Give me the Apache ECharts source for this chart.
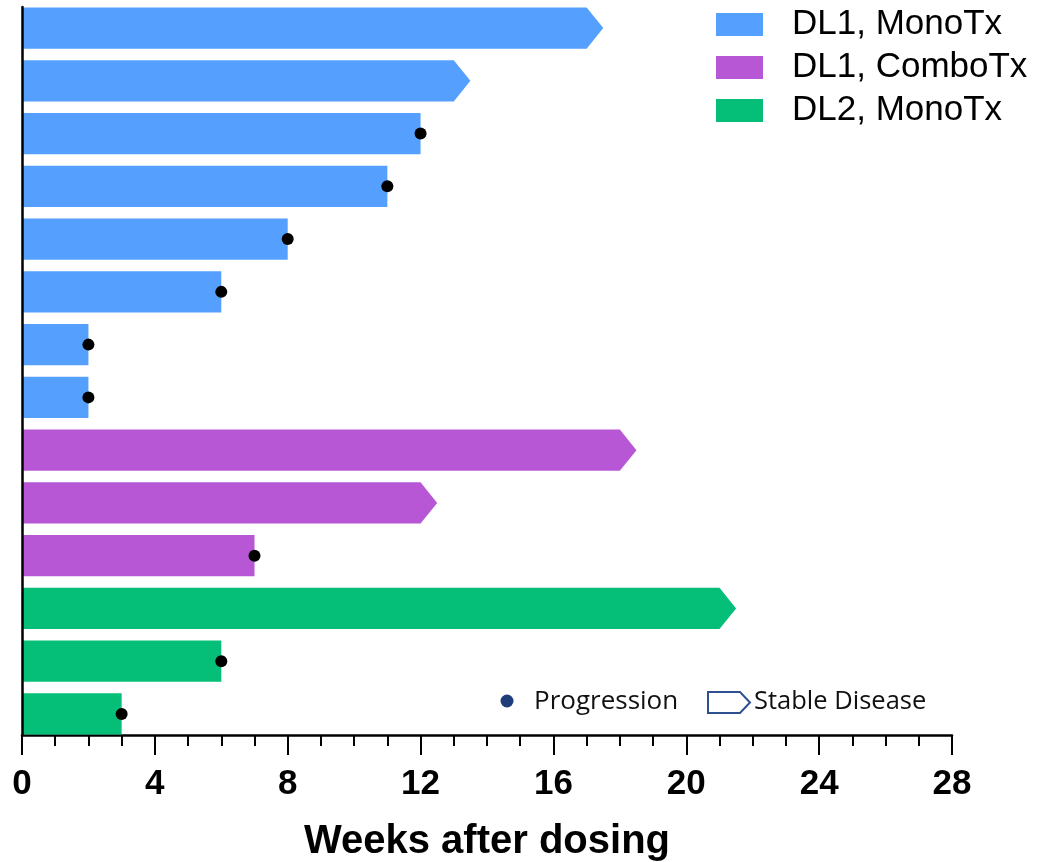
<!DOCTYPE html>
<html>
<head>
<meta charset="utf-8">
<title>Weeks after dosing</title>
<script src="https://cdn.jsdelivr.net/npm/echarts@6/dist/echarts.min.js"></script>
<style>
  html, body { margin: 0; padding: 0; background: #fff; }
  #chart { width: 1038px; height: 862px; }
</style>
</head>
<body>
<div id="chart"></div>
<script>
// Cohorts shown in the legend
const groups = ['DL1, MonoTx', 'DL1, ComboTx', 'DL2, MonoTx'];
const groupColors = ['#55A0FE', '#B857D6', '#05BF78'];

// One row per patient, top to bottom
const weeksOnStudy = [17, 13, 12, 11, 8, 6, 2, 2, 18, 12, 7, 21, 6, 3];
const cohortIndex  = [0, 0, 0, 0, 0, 0, 0, 0, 1, 1, 1, 2, 2, 2];
// 1 = stable disease (still ongoing, drawn with arrow head), 0 = progression
const stableDisease = [1, 1, 0, 0, 0, 0, 0, 0, 1, 1, 0, 1, 0, 0];

// X axis tick labels (weeks)
const weekTicks = [0, 4, 8, 12, 16, 20, 24, 28];

const ARROW_WEEKS = 0.5;   // length of the arrow head in weeks
const BAR_THICKNESS = 0.78; // bar height in row units

const chart = echarts.init(document.getElementById('chart'), null, { renderer: 'canvas' });

function renderBar(params, api) {
  const v = api.value(0);
  const row = api.value(1);
  const ongoing = api.value(2);
  const start = api.coord([0, row]);
  const end = api.coord([v, row]);
  const h = api.size([0, BAR_THICKNESS])[1];
  const top = start[1] - h / 2;
  const bot = start[1] + h / 2;
  let pts;
  if (ongoing) {
    const tip = api.coord([v + ARROW_WEEKS, row]);
    pts = [[start[0], top], [end[0], top], [tip[0], start[1]], [end[0], bot], [start[0], bot]];
  } else {
    pts = [[start[0], top], [end[0], top], [end[0], bot], [start[0], bot]];
  }
  return { type: 'polygon', shape: { points: pts }, style: { fill: api.visual('color') } };
}

const barSeries = groups.map((name, g) => {
  const data = [];
  weeksOnStudy.forEach((w, i) => {
    if (cohortIndex[i] === g) data.push([w, i + 1, stableDisease[i]]);
  });
  return {
    name: name,
    type: 'custom',
    renderItem: renderBar,
    itemStyle: { color: groupColors[g] },
    encode: { x: 0, y: 1 },
    data: data,
    z: 2
  };
});

const progressionData = [];
weeksOnStudy.forEach((w, i) => {
  if (!stableDisease[i]) progressionData.push([w, i + 1]);
});

const option = {
  backgroundColor: '#fff',
  animation: false,
  grid: { left: 22, right: 86, top: 7, bottom: 127, containLabel: false, outerBoundsMode: 'none' },
  legend: {
    data: groups,
    orient: 'vertical',
    left: 711,
    top: 2,
    icon: 'rect',
    itemWidth: 47,
    itemHeight: 23,
    itemGap: 8,
    selectedMode: false,
    textStyle: {
      fontFamily: 'Liberation Sans, Arial, sans-serif',
      fontSize: 35,
      color: '#000',
      padding: [0, 0, 0, 24]
    }
  },
  xAxis: {
    type: 'value',
    min: weekTicks[0],
    max: weekTicks[weekTicks.length - 1],
    interval: weekTicks[1] - weekTicks[0],
    splitLine: { show: false },
    axisLine: { show: true, lineStyle: { color: '#000', width: 2.5 } },
    axisTick: { show: true, length: 20, lineStyle: { color: '#000', width: 2 } },
    minorTick: { show: true, splitNumber: 4, length: 11, lineStyle: { color: '#000', width: 2 } },
    axisLabel: {
      margin: 32,
      fontFamily: 'Liberation Sans, Arial, sans-serif',
      fontWeight: 'bold',
      fontSize: 35,
      color: '#000'
    },
    name: 'Weeks after dosing',
    nameLocation: 'middle',
    nameGap: 87,
    nameTextStyle: {
      fontFamily: 'Liberation Sans, Arial, sans-serif',
      fontWeight: 'bold',
      fontSize: 40,
      color: '#000'
    }
  },
  yAxis: {
    type: 'value',
    inverse: true,
    min: 0.6,
    max: 14.4,
    z: 5,
    splitLine: { show: false },
    axisLine: { show: true, onZero: false, lineStyle: { color: '#000', width: 2.5 } },
    axisTick: { show: false },
    axisLabel: { show: false }
  },
  graphic: [
    { type: 'circle', shape: { cx: 507, cy: 701, r: 6.5 }, style: { fill: '#1F3D7A' } },
    {
      type: 'text', x: 534, y: 702,
      style: { text: 'Progression', fontFamily: 'Open Sans, sans-serif', fontSize: 26, fill: '#111', verticalAlign: 'middle' }
    },
    {
      type: 'polygon',
      shape: { points: [[708, 692], [740, 692], [750, 702.5], [740, 713], [708, 713]] },
      style: { fill: 'none', stroke: '#2F5090', lineWidth: 2 }
    },
    {
      type: 'text', x: 754, y: 702,
      style: { text: 'Stable Disease', fontFamily: 'Open Sans, sans-serif', fontSize: 25.5, fill: '#111', verticalAlign: 'middle' }
    }
  ],
  series: barSeries.concat([{
    name: 'Progression',
    type: 'scatter',
    symbol: 'circle',
    symbolSize: 12,
    itemStyle: { color: '#000', opacity: 1 },
    data: progressionData,
    z: 4
  }])
};

chart.setOption(option);
</script>
</body>
</html>
